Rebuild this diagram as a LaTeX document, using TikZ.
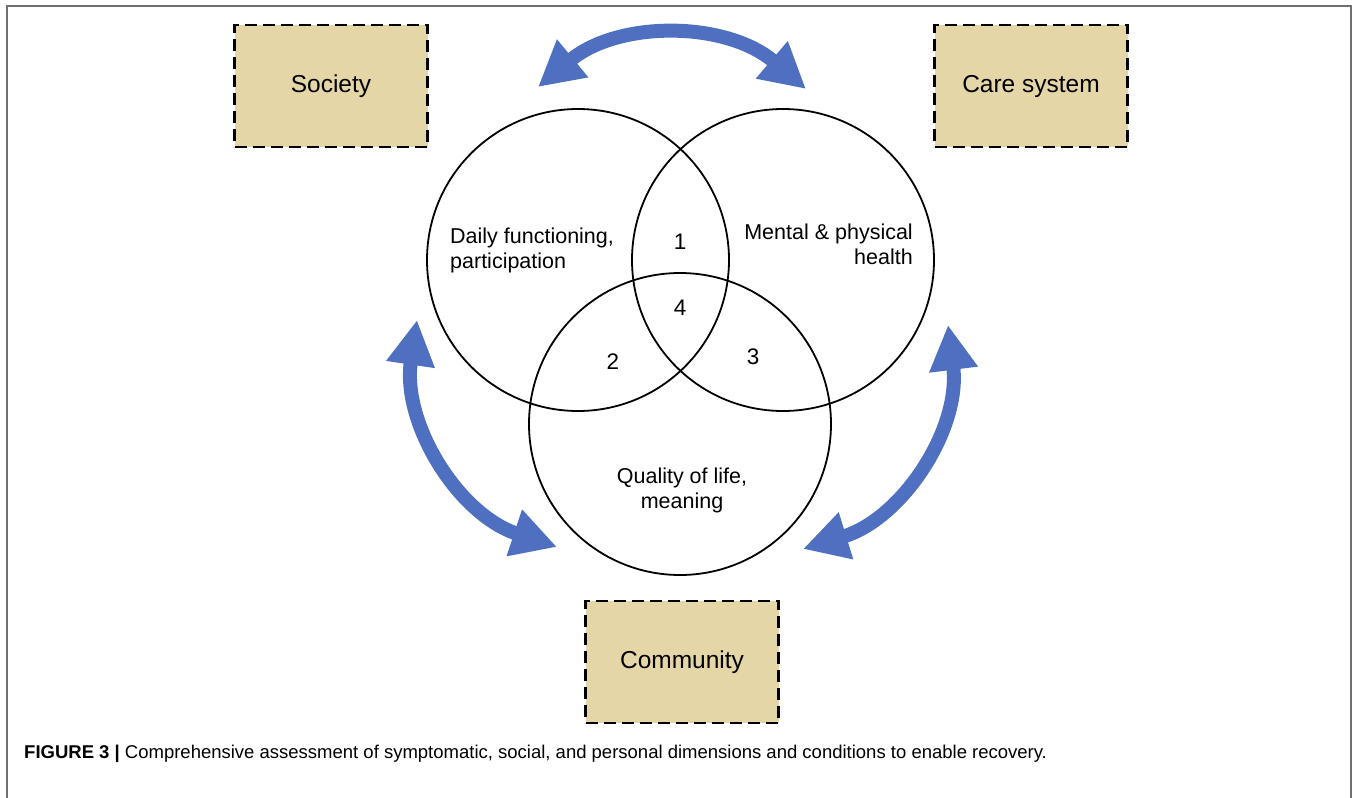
\documentclass[tikz,border=0pt]{standalone}
\usepackage{fontspec}
\setmainfont{Liberation Sans}
\usetikzlibrary{arrows.meta}

\definecolor{papyrus}{RGB}{229,214,168}
\definecolor{loopblue}{RGB}{79,112,192}
\definecolor{framegray}{RGB}{112,112,112}

\tikzset{
  field/.style={circle, draw, line width=1.8pt, minimum size=302pt, inner sep=0pt},
  context/.style={rectangle, draw, fill=papyrus, line width=2.8pt,
    dash pattern=on 12pt off 6pt, minimum width=193pt, minimum height=122pt,
    font=\fontsize{24.5}{28}\selectfont},
  tag/.style={font=\fontsize{21.5}{25}\selectfont, inner sep=0pt},
  digit/.style={font=\fontsize{22.5}{25}\selectfont, inner sep=0pt},
  loop/.style={loopblue, line width=14pt,
    {Triangle[length=45pt,width=46pt]}-{Triangle[length=45pt,width=46pt]}},
}

\begin{document}
\begin{tikzpicture}[x=1pt, y=-1pt]
\useasboundingbox (0,0) rectangle (1358,798);
\draw[framegray, line width=2pt] (7,798) -- (7,6) -- (1351,6) -- (1351,798);

% three domains
\path (578,260) node[field] (daily) {}
      (783,260) node[field] (health) {}
      (680,424) node[field] (quality) {};

\path (450,250) node[tag, align=left, anchor=west] (dailytxt) {Daily functioning,\\participation}
      (913,244) node[tag, align=right, anchor=east] (healthtxt) {Mental \& physical\\health}
      (682,490) node[tag, align=center] (qualitytxt) {Quality of life,\\meaning}
      (680,242) node[digit] (n1) {1}
      (613,362) node[digit] (n2) {2}
      (753,357) node[digit] (n3) {3}
      (680,308) node[digit] (n4) {4};

% surrounding conditions
\path (331,86) node[context] (society) {Society}
      (1031,86) node[context] (care) {Care system}
      (682,662) node[context] (community) {Community};

\coordinate (topL) at (538,87);
\coordinate (topR) at (806,89);
\coordinate (leftT) at (417,320);
\coordinate (leftB) at (557,547);
\coordinate (rightT) at (948,325);
\coordinate (rightB) at (803,549);

\draw[loop] (topL) to [bend left=40] (topR);
\draw[loop] (leftT) to [bend right=40] (leftB);
\draw[loop] (rightT) to [bend left=40] (rightB);

\node[anchor=base west, inner sep=0pt, font=\fontsize{18.5}{22}\selectfont] (caption) at (24,758)
  {\textbf{FIGURE 3 |} Comprehensive assessment of symptomatic, social, and personal dimensions and conditions to enable recovery.};
\end{tikzpicture}
\end{document}
